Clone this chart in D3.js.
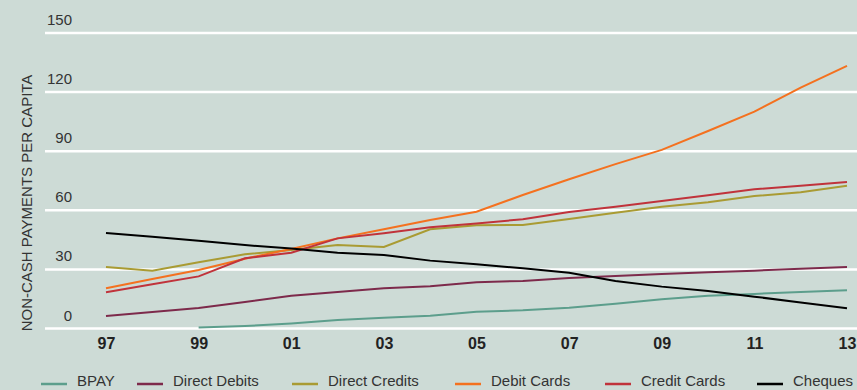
<!DOCTYPE html>
<html>
<head>
<meta charset="utf-8">
<script src="https://cdn.jsdelivr.net/npm/d3@7"></script>
<style>
  body { margin: 0; background: #cddbd6; }
  svg { display: block; font-family: "Liberation Sans", Arial, sans-serif; }
</style>
</head>
<body>
<div id="wrapper"></div>
<script>
// data (per capita, 1997-2013)
const years = d3.range(1997, 2014);
const yTicks = [0, 30, 60, 90, 120, 150];
const xTicks = [1997, 1999, 2001, 2003, 2005, 2007, 2009, 2011, 2013];

const bpay = [null, null, 0.2, 1, 2.3, 4.1, 5.2, 6.2, 8.3, 9.0, 10.3, 12.3, 14.6, 16.4, 17.3, 18.3, 19.1];
const directDebits = [6.1, 8.1, 10.2, 13.2, 16.4, 18.3, 20.2, 21.2, 23.2, 23.9, 25.4, 26.4, 27.4, 28.3, 29.1, 30.1, 31];
const directCredits = [31, 29.1, 33.4, 37.4, 39.6, 42.1, 41.1, 50.1, 52.1, 52.3, 55.3, 58.5, 61.6, 63.8, 67, 68.9, 72.2];
const debitCards = [20.2, 24.9, 29.4, 35.2, 40.1, 45.5, 50.1, 54.8, 59, 67.5, 75.5, 83.2, 90.4, 100, 109.8, 122, 133.1];
const creditCards = [18.1, 22.2, 26.2, 35.4, 38.2, 45.5, 48.1, 51.1, 53.1, 55.2, 58.9, 61.6, 64.5, 67.4, 70.4, 72.2, 74.1];
const cheques = [48.2, 46.3, 44.3, 42.1, 40.3, 38.2, 37.1, 34.2, 32.3, 30.3, 28.1, 23.9, 21, 18.8, 15.9, 13, 10];

const seriesNames = ["BPAY", "Direct Debits", "Direct Credits", "Debit Cards", "Credit Cards", "Cheques"];
const seriesValues = [bpay, directDebits, directCredits, debitCards, creditCards, cheques];
const seriesColors = ["#5c9e8c", "#7d2a4b", "#a99b33", "#f4711f", "#c0333b", "#000000"];

const width = 857, height = 390;

const svg = d3.select("#wrapper").append("svg")
    .attr("width", width)
    .attr("height", height);

svg.append("rect").attr("width", width).attr("height", height).attr("fill", "#cddbd6");

const xScale = d3.scaleLinear().domain([1997, 2013]).range([106, 847]);
const yScale = d3.scaleLinear().domain([0, 150]).range([328, 32.5]);

// gridlines + y labels
const yAxis = svg.append("g")
    .attr("transform", "translate(45,0)")
    .call(d3.axisRight(yScale).tickValues(yTicks).tickSize(width - 45).tickFormat(d3.format("d")));
yAxis.select(".domain").remove();
yAxis.selectAll(".tick line").attr("stroke", "#ffffff").attr("stroke-width", 2.5);
yAxis.selectAll(".tick text")
    .attr("x", 27)
    .attr("dy", -8)
    .attr("text-anchor", "end")
    .attr("fill", "#333")
    .style("font-size", "15px");

// x axis labels
const xAxis = svg.append("g")
    .attr("transform", "translate(0,329)")
    .call(d3.axisBottom(xScale).tickValues(xTicks).tickSize(0).tickFormat(d => String(d).slice(2)));
xAxis.select(".domain").remove();
xAxis.selectAll(".tick text")
    .attr("dy", 17)
    .attr("fill", "#222")
    .style("font-size", "16px")
    .style("font-weight", "bold");

// y axis title
svg.append("text")
    .attr("transform", "translate(32,203) rotate(-90)")
    .attr("text-anchor", "middle")
    .attr("fill", "#333")
    .style("font-size", "15px")
    .text("NON-CASH PAYMENTS PER CAPITA");

// lines
const line = d3.line()
    .defined(d => d.v != null)
    .x(d => xScale(d.year))
    .y(d => yScale(d.v));

seriesValues.forEach((vals, i) => {
    svg.append("path")
        .datum(years.map((year, j) => ({ year: year, v: vals[j] })))
        .attr("fill", "none")
        .attr("stroke", seriesColors[i])
        .attr("stroke-width", 2)
        .attr("d", line);
});

// legend
const legendX = [41, 137, 292, 455, 605, 757];
const legend = svg.append("g");
seriesNames.forEach((name, i) => {
    const item = legend.append("g").attr("transform", `translate(${legendX[i]},384)`);
    item.append("line")
        .attr("x1", 0).attr("x2", 26)
        .attr("stroke", seriesColors[i])
        .attr("stroke-width", 2.5);
    item.append("text")
        .attr("x", 36)
        .attr("y", 2)
        .attr("fill", "#333")
        .style("font-size", "15px")
        .text(name);
});
</script>
</body>
</html>
